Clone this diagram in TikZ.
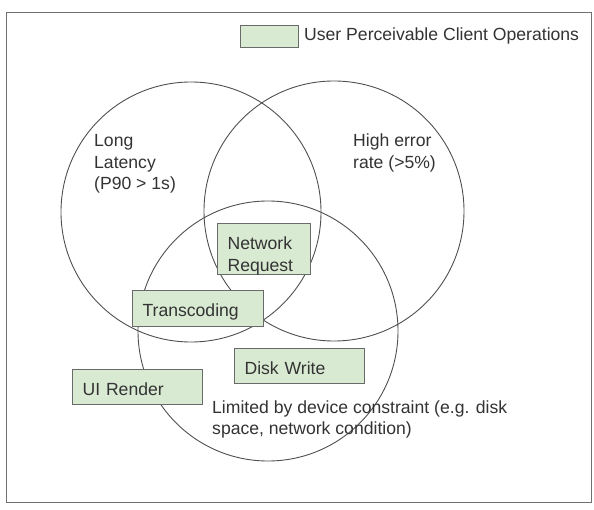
\documentclass[tikz,border=0pt]{standalone}
\usepackage{fontspec}
\setmainfont{Liberation Sans}
\definecolor{boxgreen}{HTML}{D9EAD3}
\definecolor{boxline}{HTML}{6A6A6A}
\definecolor{circline}{HTML}{505050}
\definecolor{framecol}{HTML}{707070}
\definecolor{txt}{HTML}{333333}
\begin{document}
\begin{tikzpicture}[x=1pt,y=-1pt,
  every node/.style={font=\fontsize{17.6}{21.5}\selectfont, text=txt},
  venn/.style={circle, draw=circline, line width=0.9pt, minimum size=260pt, inner sep=0pt},
  opbox/.style={draw=boxline, fill=boxgreen, line width=1.1pt, inner xsep=10pt, inner ysep=0pt, align=left, anchor=north west, text height=16.6pt, text depth=0pt},
  lbl/.style={align=left, anchor=base west, inner sep=0pt}]
\useasboundingbox (0,0) rectangle (594,510);
\fill[white] (0,0) rectangle (594,510);
\draw[framecol, line width=1pt] (6,13) rectangle (591,502);
% legend
\node[opbox, minimum width=58pt, minimum height=22pt, text width=38pt] (leg) at (240,25) {};
\node[lbl] (legtxt) at (304,41) {User Perceivable Client Operations};
% circles
\node[venn] (c1) at (191,212) {};
\node[venn] (c2) at (334,211) {};
\node[venn] (c3) at (268,331) {};
% circle labels (base anchor = baseline of last line)
\node[lbl] (l1) at (94,190) {Long\\Latency\\(P90 > 1s)};
\node[lbl] (l2) at (353,168.5) {High error\\rate (>5\%)};
\node[lbl] (l3) at (212,434.5) {Limited by device constraint (e.g. disk\\space, network condition)};
% operation boxes
\node[opbox, minimum width=93pt, minimum height=51pt, text width=73pt, text height=13pt, text depth=12pt] (nr) at (217,223) {Network\\Request};
\node[opbox, minimum width=131pt, minimum height=36pt, text width=111pt] (tc) at (132,290) {Transcoding};
\node[opbox, minimum width=130pt, minimum height=35pt, text width=110pt] (dw) at (234,348) {Disk Write};
\node[opbox, minimum width=130pt, minimum height=35pt, text width=110pt] (ui) at (72,369) {UI Render};
\end{tikzpicture}
\end{document}
